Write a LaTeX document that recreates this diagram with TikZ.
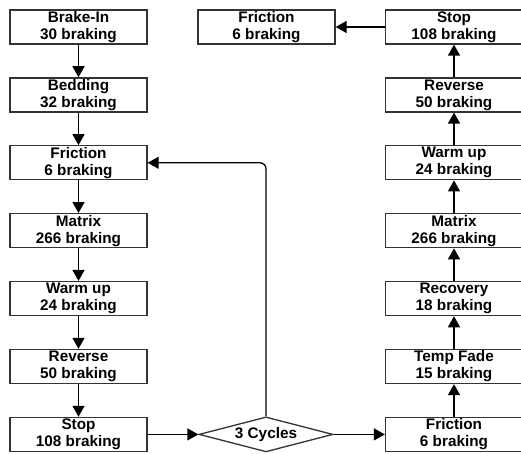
\documentclass[tikz,border=0pt]{standalone}
\usepackage{fontspec}
\setmainfont{Liberation Sans}
\usetikzlibrary{shapes.geometric,arrows.meta}
\begin{document}
\begin{tikzpicture}[x=1pt,y=-1pt,
  stepbox/.style={draw=black!80, line width=1.3pt, minimum width=137pt, minimum height=34pt, inner sep=0pt, align=center, font=\bfseries\fontsize{15.3}{17}\selectfont},
  decbox/.style={draw=black!80, line width=1.3pt, diamond, aspect=3.8, minimum width=134pt, minimum height=35pt, inner sep=0pt, font=\bfseries\fontsize{15.3}{17}\selectfont},
  arr/.style={line width=1.3pt, -{Triangle[width=12pt,length=11pt]}}]
\useasboundingbox (0,0) rectangle (521,454);
\node[stepbox] (l1) at (78.5,27) {Brake-In\\30 braking};
\node[stepbox] (l2) at (78.5,94.9) {Bedding\\32 braking};
\node[stepbox] (l3) at (78.5,162.8) {Friction\\6 braking};
\node[stepbox] (l4) at (78.5,230.7) {Matrix\\266 braking};
\node[stepbox] (l5) at (78.5,298.6) {Warm up\\24 braking};
\node[stepbox] (l6) at (78.5,366.5) {Reverse\\50 braking};
\node[stepbox] (l7) at (78.5,434.4) {Stop\\108 braking};
\node[decbox] (dia) at (266,434.4) {3 Cycles};
\node[stepbox] (r1) at (454,434.4) {Friction\\6 braking};
\node[stepbox] (r2) at (454,366.5) {Temp Fade\\15 braking};
\node[stepbox] (r3) at (454,298.6) {Recovery\\18 braking};
\node[stepbox] (r4) at (454,230.7) {Matrix\\266 braking};
\node[stepbox] (r5) at (454,162.8) {Warm up\\24 braking};
\node[stepbox] (r6) at (454,94.9) {Reverse\\50 braking};
\node[stepbox] (r7) at (454,27) {Stop\\108 braking};
\node[stepbox] (t1) at (266.5,27) {Friction\\6 braking};
\draw[arr] (l1) -- (l2);
\draw[arr] (l2) -- (l3);
\draw[arr] (l3) -- (l4);
\draw[arr] (l4) -- (l5);
\draw[arr] (l5) -- (l6);
\draw[arr] (l6) -- (l7);
\draw[arr] (l7) -- (dia);
\draw[arr] (dia) -- (r1);
\draw[arr] (r1) -- (r2);
\draw[arr] (r2) -- (r3);
\draw[arr] (r3) -- (r4);
\draw[arr] (r4) -- (r5);
\draw[arr] (r5) -- (r6);
\draw[arr] (r6) -- (r7);
\draw[arr] (r7) -- (t1);
\draw[arr, rounded corners=6pt] (dia.north) |- (l3.east);
\end{tikzpicture}
\end{document}
